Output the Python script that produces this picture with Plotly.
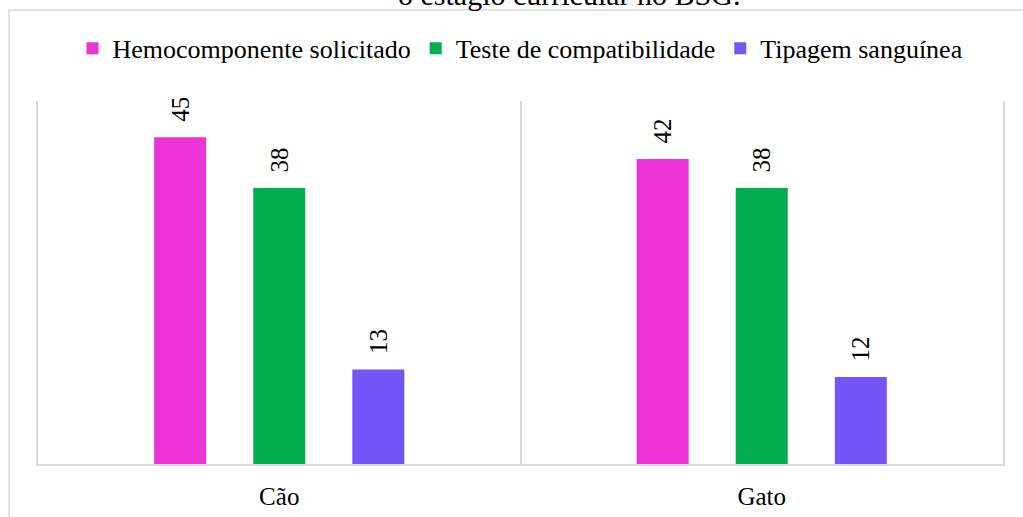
import plotly.graph_objects as go

categories = ["Cão", "Gato"]
series_names = ["Hemocomponente solicitado", "Teste de compatibilidade", "Tipagem sanguínea"]
hemocomponente = [45, 42]
compatibilidade = [38, 38]
tipagem = [13, 12]
title_text = "o estágio curricular no BSG."

colors = ["#EC33D6", "#00B050", "#7455F7"]
values = [hemocomponente, compatibilidade, tipagem]
FONT = "Liberation Serif"

fig = go.Figure()
for name, vals, col in zip(series_names, values, colors):
    fig.add_trace(go.Bar(
        x=categories, y=vals, name=name,
        marker=dict(color=col, line=dict(width=0)),
        text=vals,
        texttemplate="\u00a0\u00a0%{text}",
        textposition="outside",
        textangle=-90,
        constraintext="none",
        cliponaxis=False,
        textfont=dict(family=FONT, size=25, color="#000000"),
        hoverinfo="skip",
    ))

fig.update_layout(
    width=1023, height=517,
    margin=dict(l=38, r=20, t=101, b=53, autoexpand=False),
    paper_bgcolor="white", plot_bgcolor="white",
    barmode="group", bargap=0.384, bargroupgap=0.475,
    font=dict(family=FONT, size=25, color="#000000"),
    showlegend=True,
    legend=dict(orientation="h", x=0.5, xanchor="center", y=1.145, yanchor="middle",
                font=dict(family=FONT, size=26, color="#000000"),
                itemwidth=30, bgcolor="rgba(0,0,0,0)"),
    xaxis=dict(type="category", tickson="boundaries", showgrid=True, gridcolor="#d9d9d9",
               gridwidth=1.5, showline=True, linecolor="#d9d9d9", linewidth=1.5,
               ticks="", ticklabelstandoff=9, automargin=False,
               tickfont=dict(family=FONT, size=25, color="#000000"),
               range=[-0.5, 1.5], fixedrange=True),
    yaxis=dict(range=[0, 50], showgrid=False, zeroline=False, showticklabels=False,
               showline=True, mirror=True, linecolor="#d9d9d9", linewidth=1.5,
               ticks="", fixedrange=True, automargin=False),
    annotations=[dict(text=title_text, xref="paper", yref="paper", x=0.5503, y=1.2424,
                      xanchor="center", yanchor="bottom", showarrow=False,
                      font=dict(family=FONT, size=30, color="#000000"))],
    shapes=[dict(type="rect", xref="paper", yref="paper",
                 x0=(9 - 38) / 965, x1=(1030 - 38) / 965,
                 y0=(464 - 530) / 363, y1=(464 - 10) / 363,
                 line=dict(color="#d9d9d9", width=1.5), fillcolor="rgba(0,0,0,0)",
                 layer="below")],
)

fig.write_html("out.html", config={"displayModeBar": False})
